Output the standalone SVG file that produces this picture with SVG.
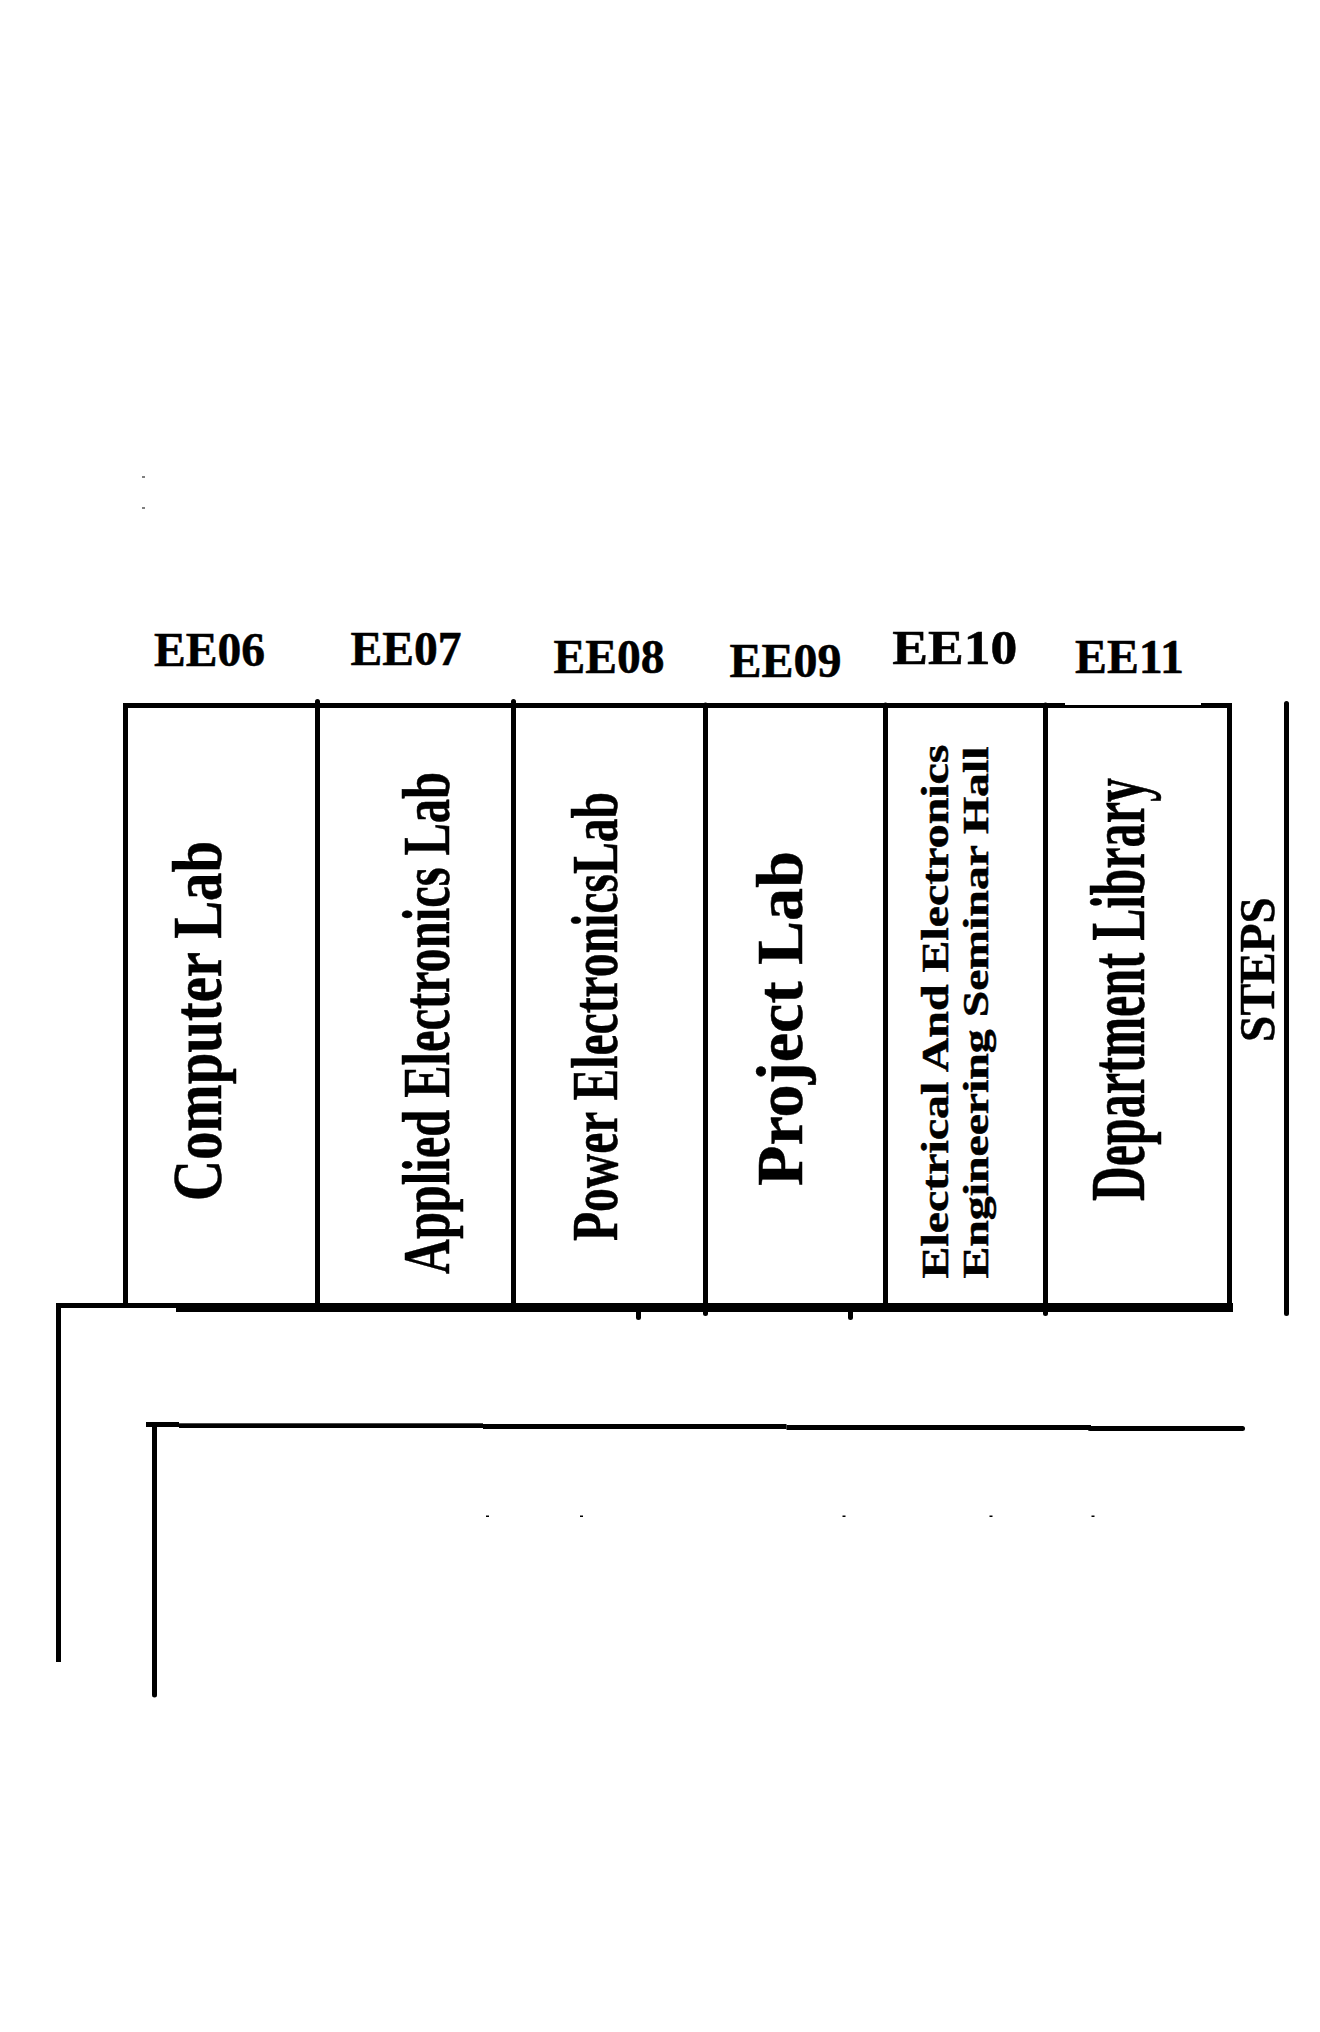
<svg xmlns="http://www.w3.org/2000/svg" width="1320" height="2032" viewBox="0 0 1320 2032">
<style>
text{font-family:"Liberation Serif","Times New Roman",serif;font-weight:bold;fill:#000;stroke:#000;stroke-width:.5}
.w{stroke:#000;fill:none;stroke-width:5}
.t{stroke-linecap:round}
.c{font-size:48px}
</style>
<rect width="1320" height="2032" fill="#fff"/>
<g id="walls">
<path class="w" d="M125.500 1305V705.500H1229.500V1306"/>
<rect x="1065" y="702" width="136" height="3" fill="#fff"/>
<path class="w t" d="M317.500 701.500V1305M513.500 701.500V1305M705.500 705V1313.500M885.500 705V1305M1045.500 705V1313.500"/>
<path class="w t" d="M1286.500 703.500V1313.500"/>
<rect x="56" y="1303" width="125" height="5"/>
<rect x="176" y="1303" width="1057" height="9"/>
<path class="w t" d="M638.500 1310V1317.500M850.500 1310V1317.500"/>
<path class="w" d="M58.500 1305V1662"/>
<rect x="146" y="1422" width="33" height="5"/>
<rect x="179" y="1423.300" width="304" height="4.700"/>
<rect x="483" y="1424" width="303.500" height="5"/>
<rect x="786.500" y="1425" width="304.500" height="5"/>
<path class="w t" d="M1090 1428.500H1242.500"/>
<path class="w t" d="M154.500 1425V1695"/>
</g>
<g id="specks" fill="#000">
<rect x="142" y="476.500" width="3" height="1"/><rect x="142" y="507.500" width="3" height="1"/>
<rect x="486" y="1515.500" width="3" height="1.500"/><rect x="580" y="1515.500" width="3" height="1.500"/><rect x="842.500" y="1515.500" width="3" height="1.500"/><rect x="989.500" y="1515.500" width="3" height="1.500"/><rect x="1091.500" y="1515.500" width="3" height="1.500"/>
</g>
<g id="EE06"><text class="c" x="154" y="665.500" textLength="111" lengthAdjust="spacingAndGlyphs">EE06</text>
<text transform="translate(221.400 1201) rotate(-90)" font-size="70" textLength="360" lengthAdjust="spacingAndGlyphs">Computer Lab</text></g>
<g id="EE07"><text class="c" x="350.500" y="665" textLength="111" lengthAdjust="spacingAndGlyphs">EE07</text>
<text transform="translate(448.500 1274) rotate(-90)" font-size="68" textLength="502" lengthAdjust="spacingAndGlyphs">Applied Electronics Lab</text></g>
<g id="EE08"><text class="c" x="553.600" y="672.500" textLength="111" lengthAdjust="spacingAndGlyphs">EE08</text>
<text transform="translate(616.500 1241) rotate(-90)" font-size="65" textLength="449" lengthAdjust="spacingAndGlyphs">Power ElectronicsLab</text></g>
<g id="EE09"><text class="c" x="729.500" y="676.700" textLength="112" lengthAdjust="spacingAndGlyphs">EE09</text>
<text transform="translate(801.500 1186) rotate(-90)" font-size="66" textLength="335" lengthAdjust="spacingAndGlyphs">Project Lab</text></g>
<g id="EE10"><text class="c" x="892.300" y="664" textLength="125" lengthAdjust="spacingAndGlyphs">EE10</text>
<text transform="translate(948 1278.500) rotate(-90)" font-size="37" textLength="534" lengthAdjust="spacingAndGlyphs">Electrical And Electronics</text>
<text transform="translate(988 1278.500) rotate(-90)" font-size="36" textLength="532" lengthAdjust="spacingAndGlyphs">Engineering Seminar Hall</text></g>
<g id="EE11"><text class="c" x="1075" y="672.500" textLength="109" lengthAdjust="spacingAndGlyphs">EE11</text>
<text transform="translate(1144 1201) rotate(-90)" font-size="78" textLength="423" lengthAdjust="spacingAndGlyphs">Department Library</text></g>
<g id="steps"><text transform="translate(1273.600 1042) rotate(-90)" font-size="51" textLength="145" lengthAdjust="spacingAndGlyphs">STEPS</text></g>
</svg>
